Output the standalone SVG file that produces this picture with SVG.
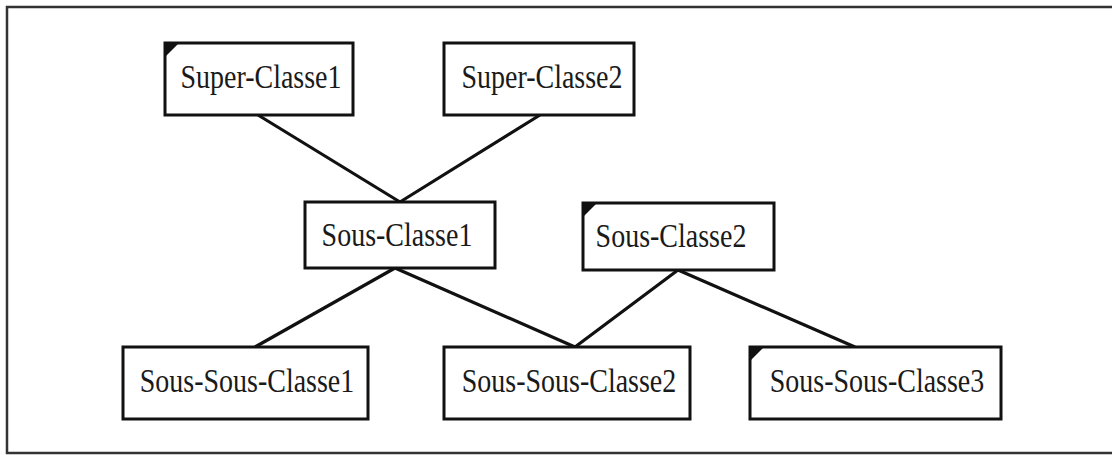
<svg xmlns="http://www.w3.org/2000/svg" width="1112" height="455" viewBox="0 0 1112 455">
<style>
.frame{fill:#fff;stroke:#333;stroke-width:2.5}
.box{fill:#fff;stroke:#111;stroke-width:3}
.lbl{font-family:"Liberation Serif","Times New Roman",serif;font-size:28px;fill:#1a1a1a;text-anchor:middle}
.edge{stroke:#111;stroke-width:3.2;fill:none}
.corner{fill:#111}
</style>
<rect x="0" y="0" width="1112" height="455" fill="#fff"/>
<rect class="frame" x="7" y="7" width="1110" height="446"/>
<g id="connectors">
<line class="edge" x1="258" y1="115" x2="400" y2="202"/>
<line class="edge" x1="540" y1="115" x2="400" y2="202"/>
<line class="edge" x1="395" y1="268" x2="255" y2="347"/>
<line class="edge" x1="395" y1="268" x2="575" y2="347"/>
<line class="edge" x1="678" y1="270" x2="575" y2="347"/>
<line class="edge" x1="678" y1="270" x2="855" y2="347"/>
</g>
<g id="super1">
<rect class="box" x="165" y="43" width="188" height="72"/>
<polygon class="corner" points="165,43 179,43 165,57"/>
<text class="lbl" transform="translate(261,88) scale(1,1.2)">Super-Classe1</text>
</g>
<g id="super2">
<rect class="box" x="444" y="43" width="190" height="72"/>
<text class="lbl" transform="translate(542,88) scale(1,1.2)">Super-Classe2</text>
</g>
<g id="sous1">
<rect class="box" x="305" y="202" width="190" height="66"/>
<text class="lbl" transform="translate(397,246) scale(1,1.2)">Sous-Classe1</text>
</g>
<g id="sous2">
<rect class="box" x="583" y="203" width="191" height="67"/>
<polygon class="corner" points="583,203 597,203 583,217"/>
<text class="lbl" transform="translate(671,247) scale(1,1.2)">Sous-Classe2</text>
</g>
<g id="soussous1">
<rect class="box" x="123" y="347" width="245" height="72"/>
<text class="lbl" transform="translate(247,392) scale(1,1.2)">Sous-Sous-Classe1</text>
</g>
<g id="soussous2">
<rect class="box" x="444" y="347" width="246" height="72"/>
<text class="lbl" transform="translate(569,392) scale(1,1.2)">Sous-Sous-Classe2</text>
</g>
<g id="soussous3">
<rect class="box" x="750" y="347" width="251" height="72"/>
<polygon class="corner" points="750,347 764,347 750,361"/>
<text class="lbl" transform="translate(877,392) scale(1,1.2)">Sous-Sous-Classe3</text>
</g>
</svg>
